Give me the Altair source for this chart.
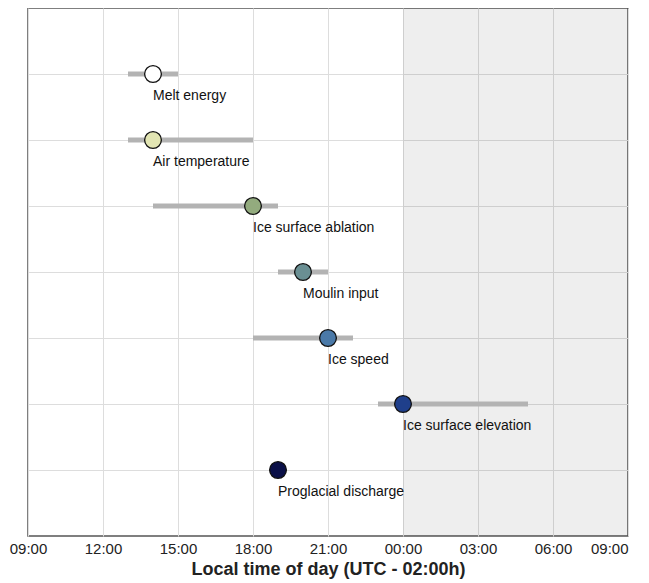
import altair as alt
import pandas as pd

names = ["Melt energy", "Air temperature", "Ice surface ablation", "Moulin input",
         "Ice speed", "Ice surface elevation", "Proglacial discharge"]
rows = [1, 2, 3, 4, 5, 6, 7]
peak = [14, 14, 18, 20, 21, 24, 19]          # hours since 00:00 of day 1
lo = [13, 13, 14, 19, 18, 23, None]
hi = [15, 18, 19, 21, 22, 29, None]
colors = ["#ffffff", "#e2e5b3", "#93ab7e", "#6a8f93", "#4a79a8", "#1f3f8b", "#0b1048"]
ticks = [9, 12, 15, 18, 21, 24, 27, 30, 33]
night = {"start": 24, "end": 33}

df = pd.DataFrame({"name": names, "row": rows, "peak": peak, "lo": lo, "hi": hi, "color": colors})
shade = pd.DataFrame([night])

xscale = alt.Scale(domain=[9, 33], nice=False, zero=False)
yscale = alt.Scale(domain=[0, 8], reverse=True, nice=False, zero=False)

xaxis = alt.Axis(values=ticks, labelExpr="(datum.value % 24 < 10 ? '0' : '') + (datum.value % 24) + ':00'",
                 title="Local time of day (UTC - 02:00h)", ticks=False, domain=False,
                 labelFlush=False, labelOverlap=False,
                 labelAlign=alt.condition("datum.value >= 33", alt.value("right"), alt.value("center")),
                 labelFontSize=15, labelPadding=5, labelFont="Liberation Sans", labelColor="#222",
                 titleFont="Liberation Sans", titleFontSize=18, titleFontWeight="bold", titleColor="#222",
                 titlePadding=4, gridColor="#dddddd", gridWidth=1)
yaxis = alt.Axis(values=rows, labels=False, ticks=False, domain=False, title=None,
                 gridColor="#dddddd", gridWidth=1)

base = alt.Chart(df)

bg = alt.Chart(shade).mark_rect(color="#000000", opacity=0.065).encode(
    x=alt.X("start:Q", scale=xscale, axis=xaxis),
    x2="end:Q",
    y=alt.value(0),
    y2=alt.value(528),
)

rng = base.transform_filter("datum.lo != null").mark_rule(color="#b3b3b3", strokeWidth=5).encode(
    x=alt.X("lo:Q", scale=xscale),
    x2="hi:Q",
    y=alt.Y("row:Q", scale=yscale, axis=yaxis),
)

pts = base.mark_point(filled=True, size=280, stroke="#111111", strokeWidth=1.3, opacity=1).encode(
    x=alt.X("peak:Q", scale=xscale),
    y=alt.Y("row:Q", scale=yscale),
    fill=alt.Fill("color:N", scale=None),
)

txt = base.mark_text(align="left", baseline="middle", dy=22, fontSize=14,
                     font="Liberation Sans", color="#111111").encode(
    x=alt.X("peak:Q", scale=xscale),
    y=alt.Y("row:Q", scale=yscale),
    text="name:N",
)

chart = alt.layer(bg, rng, pts, txt).properties(
    width=600, height=528,
    autosize=alt.AutoSizeParams(type="none"),
    padding={"left": 20, "top": 0, "right": 12, "bottom": 50},
).configure_view(stroke="#555555", strokeWidth=1.5)

chart.save("out.html", embed_options={"renderer": "svg", "actions": False})
